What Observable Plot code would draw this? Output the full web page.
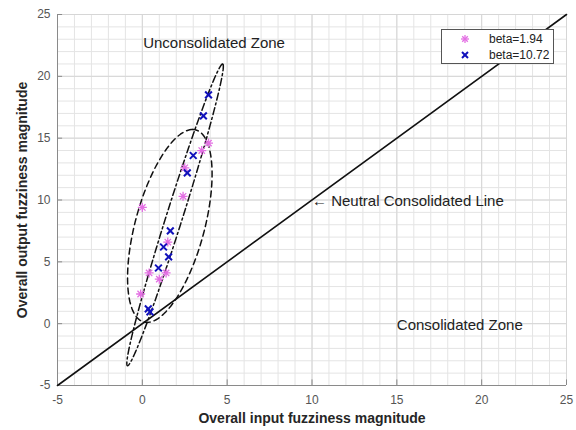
<!DOCTYPE html>
<html>
<head>
<meta charset="utf-8">
<script src="https://cdn.jsdelivr.net/npm/d3@7"></script>
<script src="https://cdn.jsdelivr.net/npm/@observablehq/plot@0.6"></script>
<style>
  html, body { margin: 0; padding: 0; background: #fff; }
  #chart { position: relative; width: 576px; height: 430px; font-family: "Liberation Sans", Arial, sans-serif; }
  #chart svg { display: block; }
  g[aria-label="x-axis label"] text, g[aria-label="y-axis label"] text { font-weight: bold; font-size: 14px; fill: #262626; }
  .legend { position: absolute; left: 441px; top: 29px; width: 111px; height: 33px; border: 1px solid #555; background: #fff; font-size: 12px; color: #222; }
  .legend svg { position: absolute; left: 18px; }
  .legend span { position: absolute; left: 47px; line-height: 14px; }
</style>
</head>
<body>
<div id="chart"></div>
<script>
// Overall fuzziness magnitudes (input, output) for two beta settings
const pinkX = [3.9, 3.5, 2.5, 2.4, 0.0, 1.5, 0.4, 1.4, 1.0, -0.1];
const pinkY = [14.6, 14.0, 12.6, 10.3, 9.4, 6.6, 4.1, 4.1, 3.6, 2.4];
const blueX = [3.9, 3.6, 3.0, 2.65, 1.65, 1.25, 1.55, 0.95, 0.35, 0.45];
const blueY = [18.5, 16.8, 13.6, 12.2, 7.5, 6.2, 5.4, 4.5, 1.2, 0.95];

const seriesNames = ["beta=1.94", "beta=10.72"];
const seriesColors = ["#e36fe3", "#1111bb"];

// Axis ticks
const xTicks = [-5, 0, 5, 10, 15, 20, 25];
const yTicks = [-5, 0, 5, 10, 15, 20, 25];
const minorTicks = d3.range(-5, 26, 1);

// Neutral consolidated line y = x
const neutralLine = [{x: -5, y: -5}, {x: 25, y: 25}];

// Confidence ellipses: centre and two conjugate semi-diameters
const wideCenter = [1.62, 7.9], wideU = [1.34, 7.8], wideV = [2.1, 0];
const narrowCenter = [1.93, 8.8], narrowU = [2.8, 12.2], narrowV = [0.5, 0];

// Zone annotations
const notes = [
  {x: 0.05, y: 22.7, text: "Unconsolidated Zone"},
  {x: 10.0, y: 9.9, text: "\u2190 Neutral Consolidated Line"},
  {x: 15.0, y: -0.1, text: "Consolidated Zone"}
];

function ellipse(c, u, v, n = 160) {
  return d3.range(n).map(i => {
    const t = 2 * Math.PI * i / n;
    return {x: c[0] + u[0] * Math.cos(t) + v[0] * Math.sin(t),
            y: c[1] + u[1] * Math.cos(t) + v[1] * Math.sin(t)};
  });
}

const pink = pinkX.map((x, i) => ({x, y: pinkY[i]}));
const blue = blueX.map((x, i) => ({x, y: blueY[i]}));

// eight-armed asterisk marker
const asterisk = {
  draw(context, size) {
    const r = Math.sqrt(size / Math.PI);
    for (let k = 0; k < 4; ++k) {
      const a = k * Math.PI / 4, dx = r * Math.cos(a), dy = r * Math.sin(a);
      context.moveTo(-dx, -dy);
      context.lineTo(dx, dy);
    }
  }
};
const cross = {
  draw(context, size) {
    const r = Math.sqrt(size / Math.PI) * 0.75;
    context.moveTo(-r, -r); context.lineTo(r, r);
    context.moveTo(-r, r); context.lineTo(r, -r);
  }
};

const plot = Plot.plot({
  width: 576,
  height: 430,
  marginLeft: 57,
  marginRight: 10,
  marginTop: 14,
  marginBottom: 45,
  style: {fontFamily: "'Liberation Sans', Arial, sans-serif", background: "#fff"},
  x: {domain: [-5, 25]},
  y: {domain: [-5, 25]},
  marks: [
    Plot.gridX(minorTicks, {stroke: "#e4e4e4", strokeOpacity: 1}),
    Plot.gridY(minorTicks, {stroke: "#e4e4e4", strokeOpacity: 1}),
    Plot.gridX(xTicks, {stroke: "#d6d6d6", strokeOpacity: 1}),
    Plot.gridY(yTicks, {stroke: "#d6d6d6", strokeOpacity: 1}),
    Plot.ruleX([-5], {stroke: "#8a8a8a"}),
    Plot.ruleY([-5], {stroke: "#8a8a8a"}),
    Plot.ruleX(xTicks, {x: d => d, y1: -5, y2: -4.55, stroke: "#8a8a8a"}),
    Plot.ruleY(yTicks, {y: d => d, x1: -5, x2: -4.7, stroke: "#8a8a8a"}),
    Plot.axisX({ticks: xTicks, tickFormat: d => String(d), tickSize: 0, tickPadding: 10, fontSize: 12, color: "#555",
      label: "Overall input fuzziness magnitude", labelAnchor: "center", labelArrow: "none", labelOffset: 37}),
    Plot.axisY({ticks: yTicks, tickFormat: d => String(d), tickSize: 0, tickPadding: 7, fontSize: 12, color: "#555",
      label: "Overall output fuzziness magnitude", labelAnchor: "center", labelArrow: "none", labelOffset: 40}),
    Plot.line(neutralLine, {x: "x", y: "y", stroke: "#111", strokeWidth: 1.6}),
    Plot.line(ellipse(wideCenter, wideU, wideV), {x: "x", y: "y", curve: "linear-closed", stroke: "#111", strokeWidth: 1.5, strokeDasharray: "6,4"}),
    Plot.line(ellipse(narrowCenter, narrowU, narrowV), {x: "x", y: "y", curve: "linear-closed", stroke: "#111", strokeWidth: 1.5, strokeDasharray: "7,3,2,3"}),
    Plot.dot(pink, {x: "x", y: "y", symbol: asterisk, r: 4.5, stroke: seriesColors[0], strokeWidth: 1.3}),
    Plot.dot(blue, {x: "x", y: "y", symbol: cross, r: 4.5, stroke: seriesColors[1], strokeWidth: 2}),
    Plot.text(notes, {x: "x", y: "y", text: "text", textAnchor: "start", fontSize: 15, fill: "#222"})
  ]
});

const chart = document.getElementById("chart");
chart.appendChild(plot);

// legend box
const legend = document.createElement("div");
legend.className = "legend";
const markers = [
  '<line x1="1" y1="5" x2="9" y2="5"/><line x1="5" y1="1" x2="5" y2="9"/><line x1="2.2" y1="2.2" x2="7.8" y2="7.8"/><line x1="2.2" y1="7.8" x2="7.8" y2="2.2"/>',
  '<line x1="2" y1="2" x2="8" y2="8"/><line x1="2" y1="8" x2="8" y2="2"/>'
];
seriesNames.forEach((name, i) => {
  const top = 9 + i * 16; // row centre inside the box
  const sym = document.createElementNS("http://www.w3.org/2000/svg", "svg");
  sym.setAttribute("width", 10); sym.setAttribute("height", 10);
  sym.setAttribute("viewBox", "0 0 10 10");
  sym.setAttribute("stroke", seriesColors[i]);
  sym.setAttribute("stroke-width", i ? 2 : 1.3);
  sym.style.top = (top - 5) + "px";
  sym.innerHTML = markers[i];
  const label = document.createElement("span");
  label.textContent = name;
  label.style.top = (top - 7) + "px";
  legend.appendChild(sym);
  legend.appendChild(label);
});
chart.appendChild(legend);
</script>
</body>
</html>
